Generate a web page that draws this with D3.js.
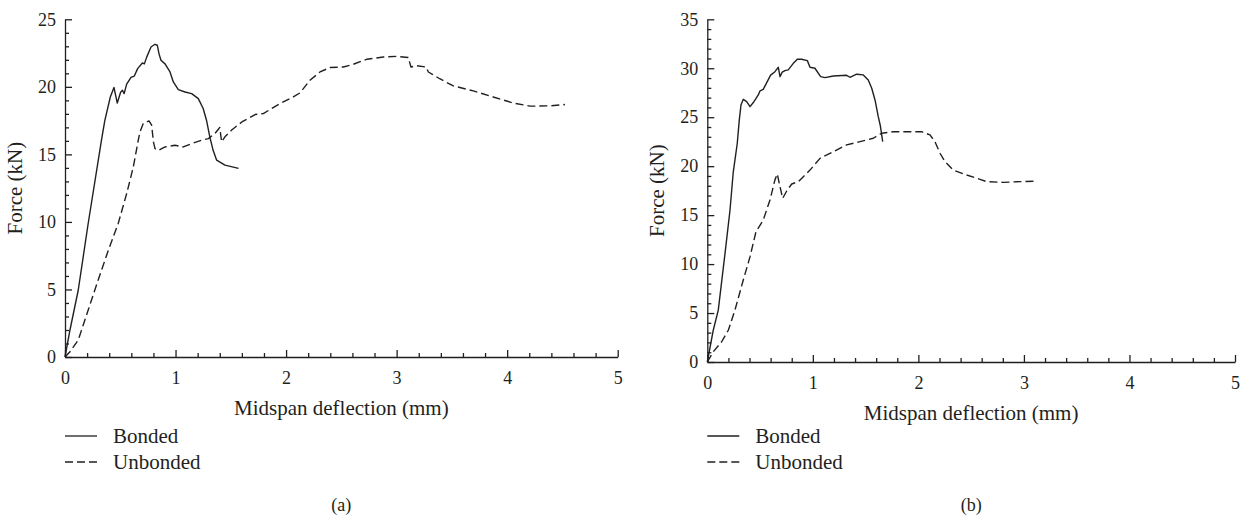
<!DOCTYPE html>
<html>
<head>
<meta charset="utf-8">
<script src="https://cdn.jsdelivr.net/npm/d3@7"></script>
<style>
  html, body { margin: 0; padding: 0; background: #fff; }
  svg { display: block; }
  svg text { font-family: "Liberation Serif", "Times New Roman", "DejaVu Serif", serif !important; fill: #231f20; }
</style>
</head>
<body>
<svg id="chart" width="1246" height="516"></svg>
<script>
// ---------- Data ----------
// Panel (a)
const aBondedX = [0, 0.045, 0.12, 0.21, 0.33, 0.36, 0.41, 0.443, 0.473, 0.503, 0.52, 0.535, 0.558, 0.597, 0.627, 0.657, 0.70, 0.718, 0.739, 0.778, 0.814, 0.835, 0.85, 0.868, 0.905, 0.95, 0.98, 1.025, 1.086, 1.146, 1.206, 1.25, 1.28, 1.31, 1.34, 1.372, 1.447, 1.57];
const aBondedF = [0, 2.0, 4.96, 9.9, 16.05, 17.5, 19.25, 19.95, 18.8, 19.6, 19.75, 19.5, 20.2, 20.7, 20.8, 21.35, 21.77, 21.7, 22.2, 22.95, 23.15, 23.08, 22.46, 21.97, 21.7, 21.1, 20.36, 19.8, 19.62, 19.5, 19.13, 18.4, 17.53, 16.3, 15.3, 14.57, 14.2, 13.96];
const aUnbondedX = [0, 0.045, 0.12, 0.21, 0.30, 0.392, 0.482, 0.558, 0.618, 0.663, 0.678, 0.708, 0.76, 0.784, 0.80, 0.814, 0.844, 0.905, 0.995, 1.07, 1.146, 1.237, 1.297, 1.357, 1.40, 1.417, 1.447, 1.508, 1.60, 1.72, 1.794, 1.945, 2.065, 2.126, 2.216, 2.307, 2.397, 2.518, 2.608, 2.729, 2.88, 3.0, 3.105, 3.13, 3.18, 3.266, 3.287, 3.39, 3.513, 3.694, 3.874, 4.056, 4.207, 4.387, 4.523];
const aUnbondedF = [0, 0.39, 1.26, 3.48, 5.7, 7.9, 9.9, 12.1, 14.07, 16.05, 16.66, 17.28, 17.48, 17.16, 15.92, 15.43, 15.3, 15.55, 15.68, 15.55, 15.8, 16.05, 16.17, 16.55, 16.99, 15.92, 16.3, 16.8, 17.4, 17.95, 18.02, 18.76, 19.25, 19.55, 20.49, 21.1, 21.43, 21.47, 21.67, 22.04, 22.21, 22.26, 22.17, 21.47, 21.57, 21.47, 21.1, 20.6, 20.07, 19.7, 19.25, 18.8, 18.57, 18.59, 18.69];

// Panel (b)
const bBondedX = [0, 0.057, 0.104, 0.168, 0.215, 0.246, 0.284, 0.303, 0.319, 0.341, 0.373, 0.405, 0.436, 0.483, 0.5, 0.53, 0.563, 0.6, 0.641, 0.673, 0.689, 0.71, 0.736, 0.767, 0.815, 0.853, 0.894, 0.948, 0.973, 1.02, 1.074, 1.115, 1.194, 1.32, 1.352, 1.415, 1.478, 1.525, 1.558, 1.589, 1.62, 1.64, 1.662];
const bBondedF = [0, 3.27, 5.3, 11.1, 15.5, 19.4, 22.34, 24.7, 26.25, 26.83, 26.6, 26.08, 26.5, 27.27, 27.7, 27.85, 28.53, 29.3, 29.65, 30.1, 29.14, 29.6, 29.76, 29.83, 30.5, 30.92, 30.92, 30.78, 30.1, 30.0, 29.14, 29.04, 29.21, 29.28, 29.08, 29.39, 29.32, 28.8, 27.96, 26.76, 25.06, 24.1, 22.5];
const bUnbondedX = [0, 0.057, 0.136, 0.2, 0.262, 0.341, 0.405, 0.461, 0.53, 0.594, 0.641, 0.663, 0.689, 0.714, 0.758, 0.8, 0.862, 0.91, 0.973, 1.068, 1.194, 1.32, 1.447, 1.573, 1.652, 1.762, 1.92, 2.03, 2.11, 2.157, 2.205, 2.252, 2.331, 2.458, 2.584, 2.647, 2.805, 2.963, 3.105];
const bUnbondedF = [0, 1.05, 2.07, 3.27, 5.3, 8.38, 10.76, 13.3, 14.5, 16.55, 18.6, 19.2, 17.9, 16.72, 17.57, 18.18, 18.42, 18.93, 19.6, 20.8, 21.48, 22.17, 22.5, 22.85, 23.36, 23.52, 23.52, 23.52, 23.19, 22.5, 21.32, 20.46, 19.6, 19.1, 18.66, 18.42, 18.35, 18.42, 18.46];

const xTicks = [0, 1, 2, 3, 4, 5];
const aYTicks = [0, 5, 10, 15, 20, 25];
const bYTicks = [0, 5, 10, 15, 20, 25, 30, 35];
const seriesNames = ["Bonded", "Unbonded"];
const panelLabels = ["(a)", "(b)"];
const xTitle = "Midspan deflection (mm)";
const yTitle = "Force (kN)";

// ---------- Drawing ----------
const FONT = '"Liberation Serif", "Times New Roman", "DejaVu Serif", serif';
const svg = d3.select("#chart");
const ink = "#231f20";

const panels = [
  { x0: 65, x1: 617.7, y0: 357, y1: 19.3, yMax: 25, yTicks: aYTicks,
    series: [[aBondedX, aBondedF], [aUnbondedX, aUnbondedF]], label: panelLabels[0] },
  { x0: 707.3, x1: 1235, y0: 362, y1: 19.3, yMax: 35, yTicks: bYTicks,
    series: [[bBondedX, bBondedF], [bUnbondedX, bUnbondedF]], label: panelLabels[1] }
];

const dashes = [null, "8,4"];

panels.forEach(p => {
  const x = d3.scaleLinear().domain([0, 5]).range([p.x0, p.x1]);
  const y = d3.scaleLinear().domain([0, p.yMax]).range([p.y0, p.y1]);
  const g = svg.append("g").attr("font-family", FONT);

  // minor ticks
  const xMinor = d3.range(0, 5.0001, 0.2).map(v => +v.toFixed(1)).filter(v => !xTicks.includes(v));
  const yMinor = d3.range(0, p.yMax + 0.001, 1).filter(v => !p.yTicks.includes(v));

  g.append("g").attr("transform", `translate(0,${p.y0})`)
    .call(d3.axisBottom(x).tickValues(xMinor).tickSize(-4).tickSizeOuter(0).tickFormat(""))
    .call(s => s.select(".domain").remove());
  g.append("g").attr("transform", `translate(${p.x0},0)`)
    .call(d3.axisLeft(y).tickValues(yMinor).tickSize(-4).tickSizeOuter(0).tickFormat(""))
    .call(s => s.select(".domain").remove());

  g.append("g").attr("transform", `translate(0,${p.y0})`)
    .call(d3.axisBottom(x).tickValues(xTicks).tickSize(-7).tickSizeOuter(0).tickPadding(14).tickFormat(d3.format("d")));
  g.append("g").attr("transform", `translate(${p.x0},0)`)
    .call(d3.axisLeft(y).tickValues(p.yTicks).tickSize(-7).tickSizeOuter(0).tickPadding(9).tickFormat(d3.format("d")));

  g.selectAll("g").attr("font-family", FONT);
  g.selectAll(".tick line, .domain").attr("stroke", ink).attr("stroke-width", 1.3);
  g.selectAll(".tick text").attr("font-size", 18).attr("fill", ink).attr("font-family", FONT);

  // axis titles
  g.append("text")
    .attr("x", (p.x0 + p.x1) / 2).attr("y", p.y0 + 58)
    .attr("text-anchor", "middle").attr("font-size", 21).attr("font-family", FONT).text(xTitle);
  g.append("text")
    .attr("transform", `translate(${p.x0 - 43},${(p.y0 + p.y1) / 2}) rotate(-90)`)
    .attr("text-anchor", "middle").attr("font-size", 21).attr("font-family", FONT).text(yTitle);

  // lines
  const line = d3.line().x(d => x(d[0])).y(d => y(d[1]));
  p.series.forEach((s, i) => {
    const pts = s[0].map((v, k) => [v, s[1][k]]);
    g.append("path").datum(pts)
      .attr("d", line)
      .attr("fill", "none").attr("stroke", ink).attr("stroke-width", 1.4)
      .attr("stroke-linejoin", "round")
      .attr("stroke-dasharray", dashes[i]);
  });

  // legend
  seriesNames.forEach((name, i) => {
    const ly = 436 + i * 26;
    g.append("line").attr("x1", p.x0).attr("x2", p.x0 + 32).attr("y1", ly).attr("y2", ly)
      .attr("stroke", ink).attr("stroke-width", 1.3).attr("stroke-dasharray", dashes[i]);
    g.append("text").attr("x", p.x0 + 48).attr("y", ly).attr("dy", "0.35em")
      .attr("font-size", 21).attr("font-family", FONT).text(name);
  });

  // panel label
  g.append("text").attr("x", (p.x0 + p.x1) / 2).attr("y", 505).attr("dy", "0.35em")
    .attr("text-anchor", "middle").attr("font-size", 18).attr("font-family", FONT).text(p.label);
});
</script>
</body>
</html>
